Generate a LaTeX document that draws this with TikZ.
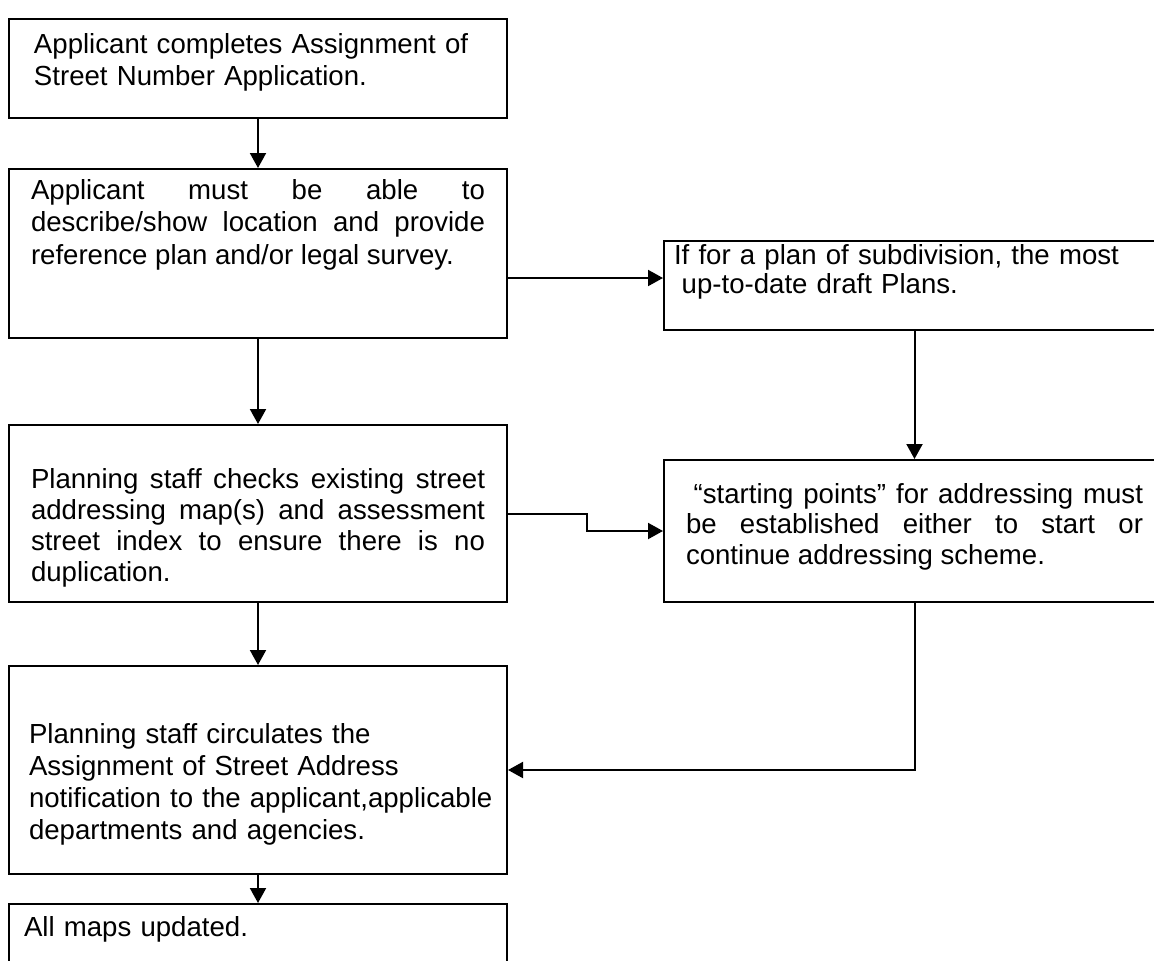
\documentclass[tikz,border=0pt]{standalone}
\usepackage{fontspec}
\setmainfont{Liberation Sans}
\usetikzlibrary{arrows.meta}
\hyphenpenalty=10000

\begin{document}
\begin{tikzpicture}[x=1pt,y=-1pt,
    stepbox/.style={draw, line width=2pt, anchor=north west, inner ysep=0pt,
      font=\fontsize{27.6}{32}\selectfont},
    arr/.style={line width=2pt, -{Triangle[length=15pt,width=16pt]}}]

    % Page frame
    \clip (0,0) rectangle (1154,961);

    % Draw boxes, left column
    \node[stepbox, inner xsep=25pt, text width=448pt, text height=34pt, text depth=65pt, align=left]
        (apply) at (8,18) {Applicant completes Assignment of\\Street Number Application.};
    \node[stepbox, inner xsep=22pt, text width=454pt, text height=30pt, text depth=139pt, align=justify,
        font=\fontsize{27.6}{32.5}\selectfont]
        (describe) at (8,168) {Applicant must be able to\linebreak describe/show location and provide\linebreak reference plan and/or legal survey.};
    \node[stepbox, inner xsep=22pt, text width=454pt, text height=63pt, text depth=114pt, align=justify,
        font=\fontsize{27.6}{31}\selectfont]
        (checks) at (8,424) {Planning staff checks existing street\linebreak addressing map(s) and assessment\linebreak street index to ensure there is no\linebreak duplication.};
    \node[stepbox, inner xsep=10pt, text width=478pt, text height=77pt, text depth=131pt, align=left]
        (circulate) at (8,665) {\hspace*{10pt}Planning staff circulates the\\\hspace*{10pt}Assignment of Street Address\\\hspace*{10pt}notification to the applicant,applicable\\\hspace*{10pt}departments and agencies.};
    \node[stepbox, inner xsep=15pt, text width=468pt, text height=32pt, text depth=80pt, align=left]
        (updated) at (8,903) {All maps updated.};

    % Draw boxes, right column
    \node[stepbox, inner xsep=10pt, text width=481pt, text height=23pt, text depth=66pt, align=left,
        font=\fontsize{27.6}{29}\selectfont]
        (subdivision) at (663,240) {If for a plan of subdivision, the most\\\hspace*{.28em}up-to-date draft Plans.};
    \node[stepbox, inner xsep=22pt, text width=457pt, text height=43pt, text depth=99pt, align=justify,
        font=\fontsize{27.6}{30.5}\selectfont]
        (startpts) at (663,459) {\hspace*{.28em}“starting points” for addressing must\linebreak be established either to start or\linebreak continue addressing scheme.};

    % Draw arrows
    \draw[arr] (apply.south) -- (describe.north);
    \draw[arr] ([yshift=7.5pt]subdivision.west -| describe.east) -- ([yshift=7.5pt]subdivision.west);
    \draw[arr] (describe.south) -- (checks.north);
    \draw[arr] (subdivision.south) -- (startpts.north);
    \draw[arr] (checks.east) -- ++(79,0) |- (startpts.west);
    \draw[arr] (checks.south) -- (circulate.north);
    \draw[arr] (startpts.south) |- (circulate.east);
    \draw[arr] (circulate.south) -- (updated.north);
\end{tikzpicture}
\end{document}
